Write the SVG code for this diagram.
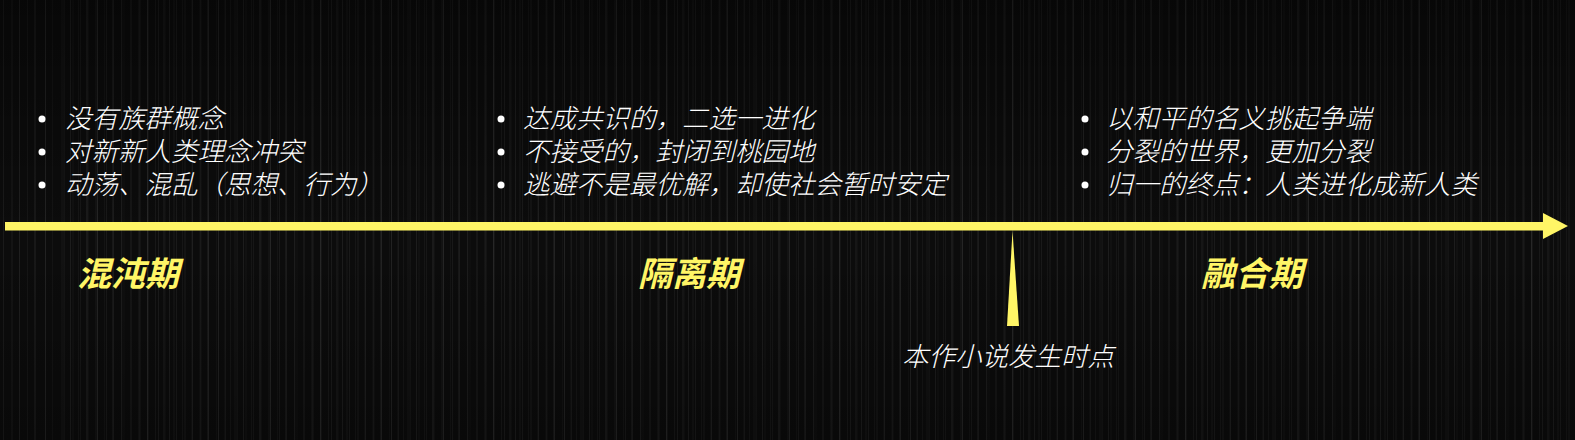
<svg xmlns="http://www.w3.org/2000/svg" width="1575" height="440" viewBox="0 0 1575 440">
<defs>
<pattern id="streaks" x="0" y="0" width="173" height="440" patternUnits="userSpaceOnUse">
<rect x="3" y="0" width="1" height="440" fill="#ffffff" opacity="0.06"/>
<rect x="11" y="0" width="2" height="440" fill="#ffffff" opacity="0.03"/>
<rect x="19" y="0" width="1" height="440" fill="#ffffff" opacity="0.08"/>
<rect x="27" y="0" width="1" height="440" fill="#ffffff" opacity="0.04"/>
<rect x="34" y="0" width="2" height="440" fill="#ffffff" opacity="0.05"/>
<rect x="45" y="0" width="1" height="440" fill="#ffffff" opacity="0.09"/>
<rect x="52" y="0" width="1" height="440" fill="#ffffff" opacity="0.03"/>
<rect x="61" y="0" width="3" height="440" fill="#ffffff" opacity="0.025"/>
<rect x="70" y="0" width="1" height="440" fill="#ffffff" opacity="0.07"/>
<rect x="78" y="0" width="1" height="440" fill="#ffffff" opacity="0.04"/>
<rect x="86" y="0" width="2" height="440" fill="#ffffff" opacity="0.06"/>
<rect x="97" y="0" width="1" height="440" fill="#ffffff" opacity="0.1"/>
<rect x="104" y="0" width="1" height="440" fill="#ffffff" opacity="0.03"/>
<rect x="112" y="0" width="2" height="440" fill="#ffffff" opacity="0.05"/>
<rect x="121" y="0" width="1" height="440" fill="#ffffff" opacity="0.07"/>
<rect x="130" y="0" width="1" height="440" fill="#ffffff" opacity="0.04"/>
<rect x="138" y="0" width="3" height="440" fill="#ffffff" opacity="0.03"/>
<rect x="147" y="0" width="1" height="440" fill="#ffffff" opacity="0.08"/>
<rect x="155" y="0" width="1" height="440" fill="#ffffff" opacity="0.05"/>
<rect x="163" y="0" width="2" height="440" fill="#ffffff" opacity="0.04"/>
<rect x="169" y="0" width="1" height="440" fill="#ffffff" opacity="0.07"/>
</pattern>
<linearGradient id="shade" x1="0" y1="0" x2="0" y2="1">
<stop offset="0" stop-color="#000" stop-opacity="0.4"/>
<stop offset="0.55" stop-color="#000" stop-opacity="0"/>
<stop offset="1" stop-color="#000" stop-opacity="0.25"/>
</linearGradient>
</defs>
<style>
.item{font-family:"Liberation Sans","Noto Sans CJK SC",sans-serif;font-size:26.5px;font-weight:300;font-style:italic;fill:#ffffff}
.phase{font-family:"Noto Sans CJK SC","Noto Sans",sans-serif;font-size:34px;font-weight:700;font-style:italic;fill:#fff566}
.note{font-family:"Noto Sans CJK SC","Noto Sans",sans-serif;font-size:26.5px;font-weight:300;font-style:italic;fill:#ffffff}
.dot{fill:#ffffff}
.yel{fill:#fff566}
</style>
<rect width="1575" height="440" fill="#0c0c0c"/>
<rect width="1575" height="440" fill="url(#streaks)"/>
<rect x="0" y="0" width="1575" height="440" fill="url(#streaks)" transform="translate(61,0)" opacity="0.6"/>
<rect width="1575" height="440" fill="url(#shade)"/>

<g id="connectors">
<rect class="yel" x="5" y="222" width="1540" height="8.5"/>
<polygon class="yel" points="1543,213 1568,226 1543,239"/>
<polygon class="yel" points="1012.5,231 1019,326 1007,326"/>
</g>

<g id="phase-chaos">
<circle class="dot" cx="42" cy="119" r="3.5"/>
<circle class="dot" cx="42" cy="152" r="3.5"/>
<circle class="dot" cx="42" cy="185" r="3.5"/>
<text class="item"><tspan x="65" y="128">没有族群概念</tspan><tspan x="65" y="161">对新新人类理念冲突</tspan><tspan x="65" y="194">动荡、混乱（思想、行为）</tspan></text>
<text class="phase" x="77" y="286">混沌期</text>
</g>

<g id="phase-isolation">
<circle class="dot" cx="501" cy="119" r="3.5"/>
<circle class="dot" cx="501" cy="152" r="3.5"/>
<circle class="dot" cx="501" cy="185" r="3.5"/>
<text class="item"><tspan x="523" y="128">达成共识的，二选一进化</tspan><tspan x="523" y="161">不接受的，封闭到桃园地</tspan><tspan x="523" y="194">逃避不是最优解，却使社会暂时安定</tspan></text>
<text class="phase" x="638" y="286">隔离期</text>
</g>

<g id="phase-fusion">
<circle class="dot" cx="1085" cy="119" r="3.5"/>
<circle class="dot" cx="1085" cy="152" r="3.5"/>
<circle class="dot" cx="1085" cy="185" r="3.5"/>
<text class="item"><tspan x="1106" y="128">以和平的名义挑起争端</tspan><tspan x="1106" y="161">分裂的世界，更加分裂</tspan><tspan x="1106" y="194">归一的终点：人类进化成新人类</tspan></text>
<text class="phase" x="1201" y="286">融合期</text>
</g>

<g id="marker-now">
<text class="note" x="902" y="366">本作小说发生时点</text>
</g>
</svg>
